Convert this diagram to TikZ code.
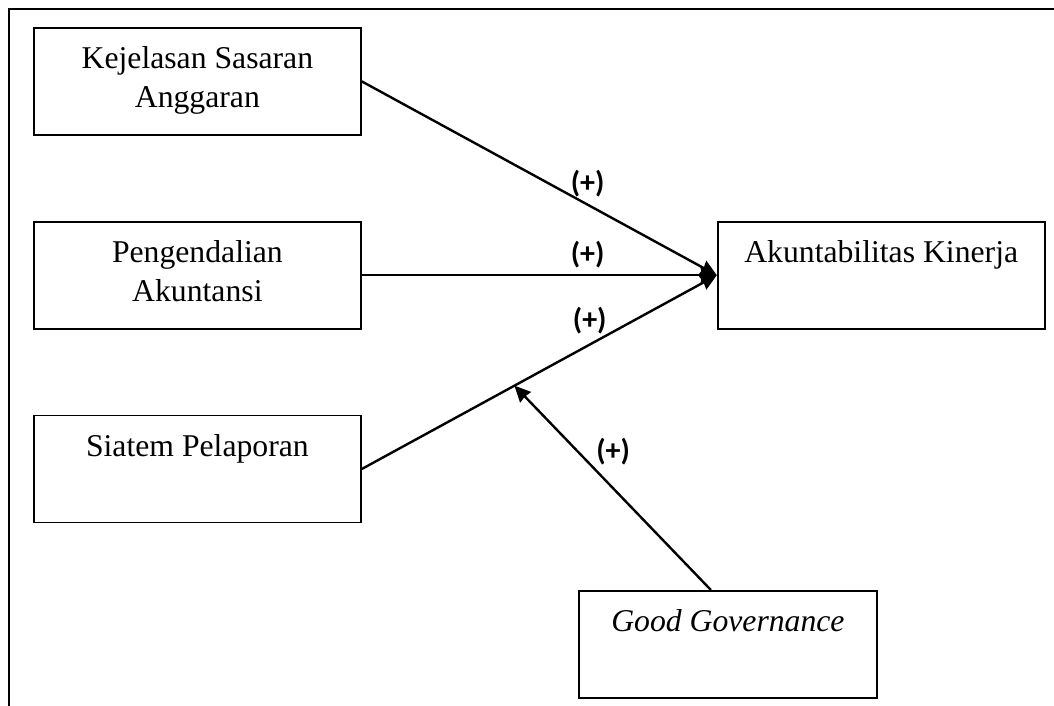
\documentclass[tikz,border=0pt]{standalone}
\usepackage{fontspec}
\setmainfont{Liberation Serif}
\newfontfamily\signfont{Carlito}
\usepackage{tikz}
\usetikzlibrary{arrows.meta,positioning,calc}

\begin{document}
\begin{tikzpicture}[
    x=1pt, y=-1pt,
    node distance=85pt,
    box/.style={rectangle, draw, line width=1.8pt, minimum width=327pt, minimum height=107pt, inner sep=0pt, align=center, text height=41pt, text depth=66pt, font=\fontsize{31.7}{39}\selectfont},
    twolines/.style={text height=80pt, text depth=27pt},
    arrow/.style={-{Stealth[length=16pt, width=15pt, inset=1pt]}, line width=2.4pt},
    sign/.style={inner sep=0pt, font=\signfont\bfseries\fontsize{30}{32}\selectfont}
]
    \useasboundingbox (0,0) rectangle (1054,706);

    % Frame
    \draw[line width=2.4pt] (9,706) -- (9,9) -- (1054,9);

    % Independent variables
    \node[box, twolines, anchor=north west] (kejelasan) at (33,27) {Kejelasan Sasaran\\Anggaran};
    \node[box, twolines, below=of kejelasan] (pengendalian) {Pengendalian\\Akuntansi};
    \node[box, below=of pengendalian] (siatem) {Siatem Pelaporan};

    % Dependent variable
    \node[box, right=355pt of pengendalian] (akuntabilitas) {Akuntabilitas Kinerja};

    % Moderating variable
    \node[box, anchor=north west, minimum width=298pt, font=\fontsize{31.7}{39}\selectfont\itshape] (governance) at (578,590) {Good Governance};

    % Arrows
    \draw[arrow] (kejelasan.east) -- (akuntabilitas.west) node[sign, pos=0.636, above=6pt] {(+)};
    \draw[arrow] (pengendalian.east) -- (akuntabilitas.west) node[sign, pos=0.636, above=6pt] {(+)};
    \draw[arrow] (siatem.east) -- (akuntabilitas.west) node[sign, pos=0.642, above=9pt] {(+)};

    % Moderation
    \path (siatem.east) -- (akuntabilitas.west) coordinate[pos=0.43] (moderate);
    \draw[arrow] ($(governance.north)+(-17,0)$) -- (moderate) node[sign, pos=0.676, right=17pt] {(+)};

\end{tikzpicture}
\end{document}
